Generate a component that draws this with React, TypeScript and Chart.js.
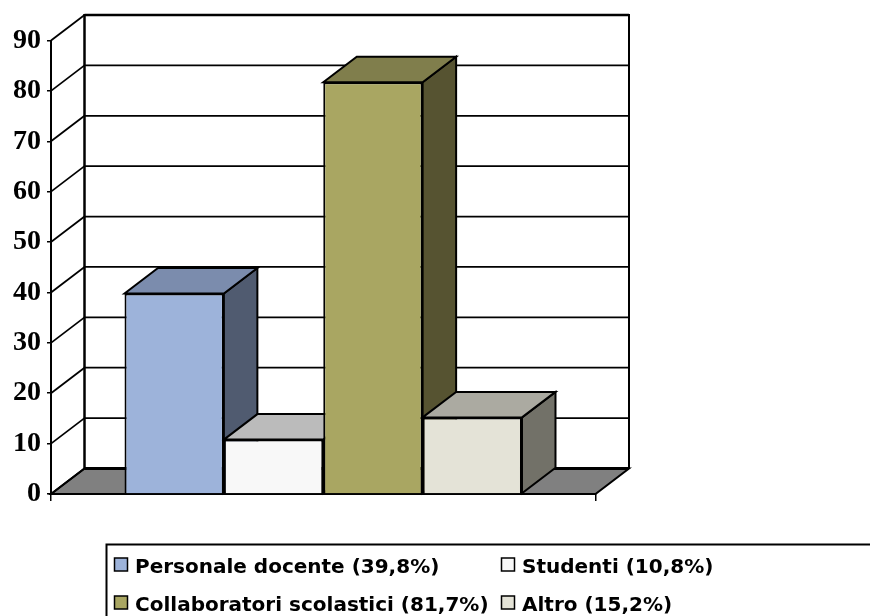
import React, { useEffect, useRef } from "react";
import { Chart, registerables } from "chart.js";

Chart.register(...registerables);

// Series values, in percent
const categories = [""];
const seriesNames = ["Personale docente", "Studenti", "Collaboratori scolastici", "Altro"];
const seriesValueLabels = ["39,8%", "10,8%", "81,7%", "15,2%"];
const personaleDocente = [39.8];
const studenti = [10.8];
const collaboratori = [81.7];
const altro = [15.2];
const yTicks = [0, 10, 20, 30, 40, 50, 60, 70, 80, 90];

// Face colours of each box: front, side, top
const frontColors = ["#9DB3DA", "#F8F8F8", "#A9A662", "#E4E3D7"];
const sideColors = ["#505B70", "#7C7C7C", "#565331", "#727168"];
const topColors = ["#7B8CAD", "#BBBBBB", "#807E4C", "#ABAAA1"];

const DEPTH_X = 33.5;
const DEPTH_Y = 25.5;

function poly(ctx: CanvasRenderingContext2D, pts: number[][], fill: string | null, lw = 2) {
  ctx.beginPath();
  pts.forEach(([x, y], i) => (i ? ctx.lineTo(x, y) : ctx.moveTo(x, y)));
  ctx.closePath();
  if (fill) {
    ctx.fillStyle = fill;
    ctx.fill();
  }
  ctx.lineWidth = lw;
  ctx.strokeStyle = "#000";
  ctx.lineJoin = "miter";
  ctx.stroke();
}

function segment(ctx: CanvasRenderingContext2D, x0: number, y0: number, x1: number, y1: number, lw: number) {
  ctx.beginPath();
  ctx.moveTo(x0, y0);
  ctx.lineTo(x1, y1);
  ctx.lineWidth = lw;
  ctx.strokeStyle = "#000";
  ctx.stroke();
}

// Back wall, side wall, floor, and the side and top faces of the boxes.
const perspective = {
  id: "perspective",
  beforeDatasetsDraw(chart: any) {
    const ctx: CanvasRenderingContext2D = chart.ctx;
    const { x, y } = chart.scales;
    const left = x.left;
    const right = x.right;
    const base = y.getPixelForValue(0);
    ctx.save();

    poly(
      ctx,
      [
        [left, base],
        [left + DEPTH_X, base - DEPTH_Y],
        [right + DEPTH_X, base - DEPTH_Y],
        [right, base],
      ],
      "#808080",
      2
    );

    yTicks.forEach((v) => {
      const py = y.getPixelForValue(v);
      const isTop = v === yTicks[yTicks.length - 1];
      segment(ctx, left, py, left + DEPTH_X, py - DEPTH_Y, 1.75);
      if (v !== 0) segment(ctx, left + DEPTH_X, py - DEPTH_Y, right + DEPTH_X, py - DEPTH_Y, isTop ? 2.5 : 1.75);
    });
    segment(ctx, left + DEPTH_X, base - DEPTH_Y, right + DEPTH_X, base - DEPTH_Y, 3);
    segment(ctx, left + DEPTH_X, y.getPixelForValue(90) - DEPTH_Y - 1, left + DEPTH_X, base - DEPTH_Y, 2.5);
    segment(ctx, right + DEPTH_X, y.getPixelForValue(90) - DEPTH_Y - 1, right + DEPTH_X, base - DEPTH_Y, 2);

    chart.data.datasets.forEach((_: unknown, i: number) => {
      const bar = chart.getDatasetMeta(i).data[0];
      const x0 = bar.x - bar.width / 2;
      const x1 = bar.x + bar.width / 2;
      const top = bar.y;
      const bottom = bar.base;
      poly(
        ctx,
        [
          [x1, top],
          [x1 + DEPTH_X, top - DEPTH_Y],
          [x1 + DEPTH_X, bottom - DEPTH_Y],
          [x1, bottom],
        ],
        sideColors[i]
      );
      poly(
        ctx,
        [
          [x0, top],
          [x0 + DEPTH_X, top - DEPTH_Y],
          [x1 + DEPTH_X, top - DEPTH_Y],
          [x1, top],
        ],
        topColors[i]
      );
    });
    ctx.restore();
  },
};

// Two-column legend in an open-ended frame running off the canvas.
const legendFrame = {
  id: "legendFrame",
  afterDraw(chart: any) {
    const ctx: CanvasRenderingContext2D = chart.ctx;
    ctx.save();
    ctx.lineWidth = 2;
    ctx.strokeStyle = "#000";
    ctx.strokeRect(106.5, 544.5, 900, 120);
    ctx.font = 'bold 20px "DejaVu Sans"';
    ctx.textBaseline = "alphabetic";
    ctx.textAlign = "left";
    const columns = [114.5, 501.5];
    const rows = [558, 596];
    chart.data.datasets.forEach((ds: any, i: number) => {
      const bx = columns[i % 2];
      const by = rows[Math.floor(i / 2)];
      ctx.fillStyle = frontColors[i];
      ctx.fillRect(bx, by, 13, 13);
      ctx.lineWidth = 1.5;
      ctx.strokeStyle = "#000";
      ctx.strokeRect(bx, by, 13, 13);
      ctx.fillStyle = "#000";
      ctx.fillText(ds.label, bx + 20.5, by + 14.5);
    });
    ctx.restore();
  },
};

export default function App() {
  const ref = useRef<HTMLCanvasElement>(null);

  useEffect(() => {
    if (!ref.current) return;
    const seriesValues = [personaleDocente, studenti, collaboratori, altro];
    const chart = new Chart(ref.current, {
      type: "bar",
      data: {
        labels: categories,
        datasets: seriesValues.map((data, i) => ({
          label: `${seriesNames[i]} (${seriesValueLabels[i]})`,
          data,
          backgroundColor: frontColors[i],
          borderColor: "#000",
          borderWidth: 2,
          categoryPercentage: 0.73,
          barPercentage: 1,
        })),
      },
      options: {
        responsive: false,
        animation: false,
        events: [],
        layout: { padding: { left: 0, right: 274.5, top: 40.5, bottom: 115 } },
        plugins: { legend: { display: false }, tooltip: { enabled: false } },
        scales: {
          x: {
            afterFit: (s: any) => {
              s.height = 7;
            },
            grid: { offset: true, drawOnChartArea: false, color: "#000", tickLength: 7, lineWidth: 1.5 },
            border: { color: "#000", width: 2 },
            ticks: { display: false },
          },
          y: {
            min: 0,
            max: 90,
            afterFit: (s: any) => {
              s.width = 51;
            },
            afterBuildTicks: (s: any) => {
              s.ticks = yTicks.map((value) => ({ value }));
            },
            grid: { drawOnChartArea: false, color: "#000", tickLength: 4, lineWidth: 1.5 },
            border: { color: "#000", width: 2 },
            ticks: {
              color: "#000",
              padding: 6,
              font: { family: '"Liberation Serif"', size: 28, weight: "bold" },
            },
          },
        },
      },
      plugins: [perspective, legendFrame],
    } as any);
    return () => chart.destroy();
  }, []);

  return (
    <div style={{ position: "absolute", left: 0, top: 0, width: 870, height: 616, background: "#fff" }}>
      <canvas ref={ref} width={870} height={616} style={{ display: "block" }} />
    </div>
  );
}
